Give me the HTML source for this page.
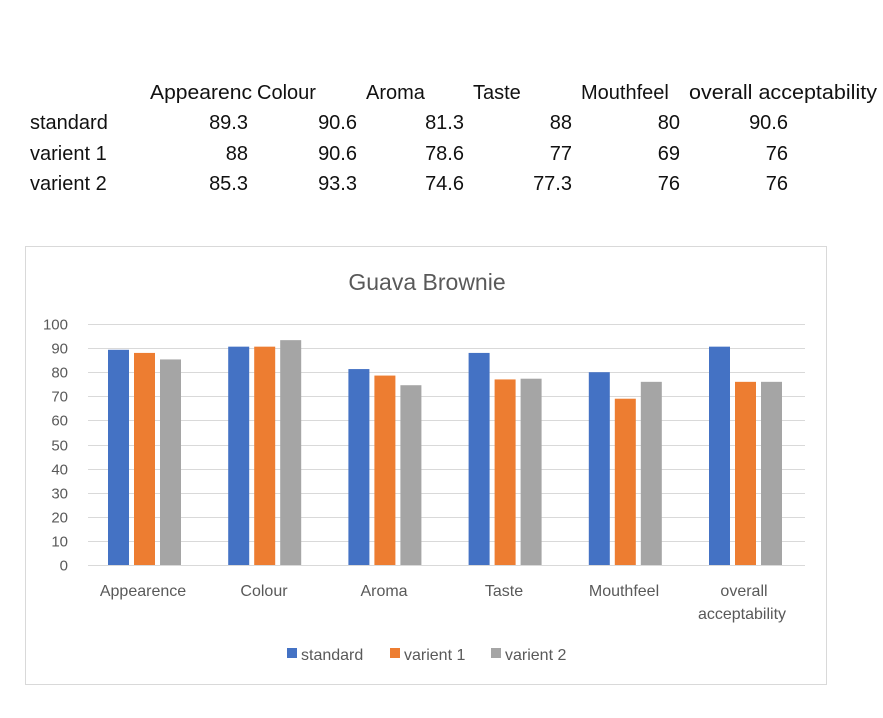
<!DOCTYPE html>
<html><head><style>
body{margin:0;width:883px;height:713px;background:#fff;overflow:hidden;font-family:"Liberation Sans",Carlito,sans-serif;}
</style></head><body>
<svg width="883" height="713" xmlns="http://www.w3.org/2000/svg" font-family="Liberation Sans, sans-serif">
<g font-size="20" fill="#111">
<text x="150" y="99" textLength="102" lengthAdjust="spacingAndGlyphs">Appearenc</text><text x="257" y="99">Colour</text><text x="366" y="99">Aroma</text><text x="473" y="99">Taste</text><text x="581" y="99">Mouthfeel</text><text x="689" y="99" textLength="188" lengthAdjust="spacingAndGlyphs">overall acceptability</text>
<text x="30" y="129">standard</text><text x="30" y="160">varient 1</text><text x="30" y="190">varient 2</text>
<g text-anchor="end">
<text x="248" y="129">89.3</text><text x="357" y="129">90.6</text><text x="464" y="129">81.3</text><text x="572" y="129">88</text><text x="680" y="129">80</text><text x="788" y="129">90.6</text>
<text x="248" y="160">88</text><text x="357" y="160">90.6</text><text x="464" y="160">78.6</text><text x="572" y="160">77</text><text x="680" y="160">69</text><text x="788" y="160">76</text>
<text x="248" y="190">85.3</text><text x="357" y="190">93.3</text><text x="464" y="190">74.6</text><text x="572" y="190">77.3</text><text x="680" y="190">76</text><text x="788" y="190">76</text>
</g></g>
<rect x="25.5" y="246.5" width="801" height="438" fill="#fff" stroke="#d9d9d9"/>
<text x="427" y="290" text-anchor="middle" font-size="23" fill="#595959">Guava Brownie</text>
<g stroke="#d9d9d9" stroke-width="1" id="grid"></g>
<g font-size="15" fill="#595959" text-anchor="end" id="yl"></g>
<g id="bars"></g>
<g font-size="16" fill="#595959" text-anchor="middle">
<text x="143" y="596">Appearence</text><text x="264" y="596">Colour</text><text x="384" y="596">Aroma</text><text x="504" y="596">Taste</text><text x="624" y="596">Mouthfeel</text><text x="744" y="596">overall</text><text x="742" y="619">acceptability</text>
</g>
<g font-size="16" fill="#595959">
<rect x="287" y="648" width="10" height="10" fill="#4472c4"/><text x="301" y="660">standard</text>
<rect x="390" y="648" width="10" height="10" fill="#ed7d31"/><text x="404" y="660">varient 1</text>
<rect x="491" y="648" width="10" height="10" fill="#a5a5a5"/><text x="505" y="660">varient 2</text>
</g>
<script>
var ns="http://www.w3.org/2000/svg";
function el(p,t,a,txt){var e=document.createElementNS(ns,t);for(var k in a)e.setAttribute(k,a[k]);if(txt!=null)e.textContent=txt;document.getElementById(p).appendChild(e);}
var y0=565,s=2.41;
for(var i=0;i<=10;i++){var y=Math.round(y0-i*10*s)+0.5;el("grid","line",{x1:88,x2:805,y1:y,y2:y});el("yl","text",{x:68,y:y+5},i*10);}
var d=[[89.3,88,85.3],[90.6,90.6,93.3],[81.3,78.6,74.6],[88,77,77.3],[80,69,76],[90.6,76,76]];
var c=["#4472c4","#ed7d31","#a5a5a5"],off=[-35,-9,17];
d.forEach(function(r,i){var cx=143+i*120.2;r.forEach(function(v,j){el("bars","rect",{x:cx+off[j],y:y0-v*s,width:21,height:v*s,fill:c[j]});});});
</script>
</svg>
</body></html>
